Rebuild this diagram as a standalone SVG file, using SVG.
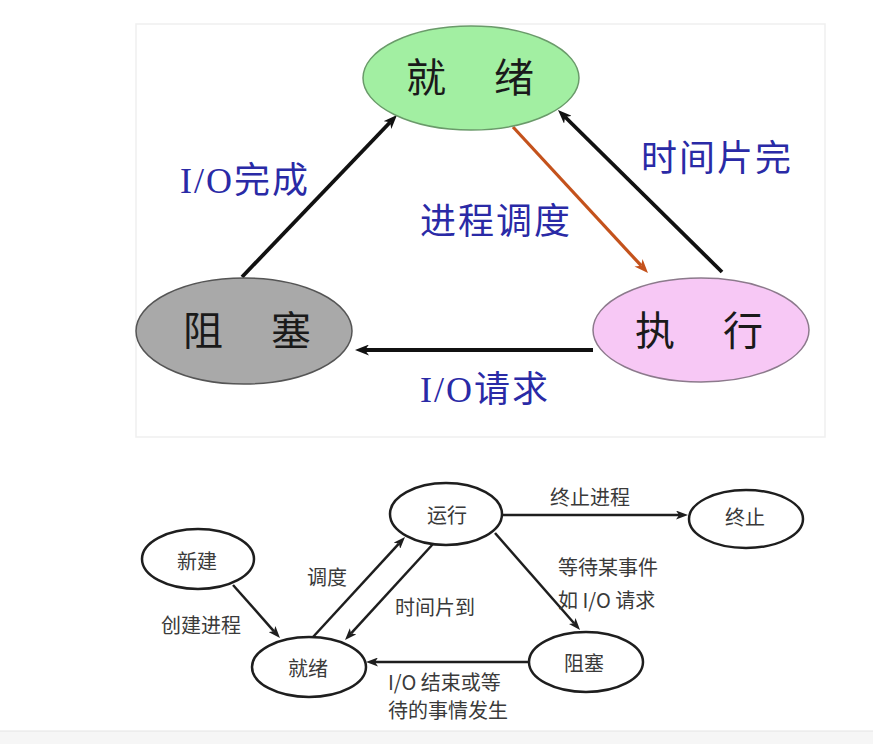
<svg xmlns="http://www.w3.org/2000/svg" width="873" height="744" viewBox="0 0 873 744">
<style>
.bg{fill:#ffffff}
.panel{fill:#ffffff;stroke:#efefef;stroke-width:1.5}
.tnode{stroke-width:1.5}
.tlabel{font-family:"Noto Sans CJK SC","Noto Sans",sans-serif;font-size:40px;fill:#1a1a1a}
.elabel{font-family:"Liberation Serif","Noto Sans CJK SC",serif;font-size:36px;fill:#2a2aa6;letter-spacing:2px}
.tline{fill:none;stroke:#111;stroke-width:3.8}
.tline-or{fill:none;stroke:#c4521c;stroke-width:3.2}
.bnode{fill:#fff;stroke:#1e1e1e;stroke-width:2.5}
.blabel{font-family:"Noto Sans CJK SC","Noto Sans",sans-serif;font-size:20px;fill:#3a3a3a}
.bline{fill:none;stroke:#1e1e1e;stroke-width:2.5}
</style>
<defs>
<marker id="ah" markerUnits="userSpaceOnUse" markerWidth="14" markerHeight="11" refX="4" refY="5.5" orient="auto"><path d="M0,0 L14,5.5 L0,11 L4,5.5 z" fill="#111"/></marker>
<marker id="ah-or" markerUnits="userSpaceOnUse" markerWidth="14" markerHeight="11" refX="4" refY="5.5" orient="auto"><path d="M0,0 L14,5.5 L0,11 L4,5.5 z" fill="#c4521c"/></marker>
<marker id="bh" markerUnits="userSpaceOnUse" markerWidth="12" markerHeight="9" refX="3" refY="4.5" orient="auto"><path d="M0,0 L12,4.5 L0,9 L3,4.5 z" fill="#1e1e1e"/></marker>
</defs>
<rect class="bg" x="0" y="0" width="873" height="744"/>
<rect class="panel" x="136" y="24" width="689" height="413"/>
<rect x="0" y="731" width="873" height="13" fill="#f6f6f6"/>
<line x1="0" y1="731" x2="873" y2="731" stroke="#e4e4e4" stroke-width="1"/>

<g id="top-connectors">
<path class="tline" d="M242,277 L390.1,122.2" marker-end="url(#ah)"/>
<path class="tline-or" d="M513,127 L641.2,265.7" marker-end="url(#ah-or)"/>
<path class="tline" d="M722,272 L565.1,117" marker-end="url(#ah)"/>
<path class="tline" d="M593,350 L365,350" marker-end="url(#ah)"/>
<text class="elabel" x="180" y="193">I/O完成</text>
<text class="elabel" x="641" y="171">时间片完</text>
<text class="elabel" x="420" y="234">进程调度</text>
<text class="elabel" x="420" y="402">I/O请求</text>
</g>

<g id="top-ready">
<ellipse class="tnode" cx="471" cy="78" rx="108" ry="52" fill="#a2efa2" stroke="#6a9a6a"/>
<text class="tlabel" y="92"><tspan x="406">就 </tspan><tspan x="494">绪</tspan></text>
</g>
<g id="top-blocked">
<ellipse class="tnode" cx="244" cy="331" rx="108" ry="53" fill="#a9a9a9" stroke="#555"/>
<text class="tlabel" y="345"><tspan x="183">阻 </tspan><tspan x="271">塞</tspan></text>
</g>
<g id="top-running">
<ellipse class="tnode" cx="701" cy="330" rx="108" ry="52" fill="#f7c8f5" stroke="#8c7a8c"/>
<text class="tlabel" y="345"><tspan x="635">执 </tspan><tspan x="723">行</tspan></text>
</g>

<g id="bottom-connectors">
<path class="bline" d="M233,585 L274,631.3" marker-end="url(#bh)"/>
<path class="bline" d="M313,637 L398.9,543.6" marker-end="url(#bh)"/>
<path class="bline" d="M433,544 L351.1,633.4" marker-end="url(#bh)"/>
<path class="bline" d="M503,515 L679,515" marker-end="url(#bh)"/>
<path class="bline" d="M495,533 L574.1,623.2" marker-end="url(#bh)"/>
<path class="bline" d="M529,662 L375,662" marker-end="url(#bh)"/>
<text class="blabel" x="550" y="505">终止进程</text>
<text class="blabel" x="307" y="585">调度</text>
<text class="blabel" x="395" y="615">时间片到</text>
<text class="blabel" x="558" y="575">等待某事件</text>
<text class="blabel" x="558" y="608">如 I/O 请求</text>
<text class="blabel" x="161" y="633">创建进程</text>
<text class="blabel" x="388" y="690">I/O 结束或等</text>
<text class="blabel" x="388" y="718">待的事情发生</text>
</g>

<g id="b-new">
<ellipse class="bnode" cx="198" cy="559" rx="56" ry="30"/>
<text class="blabel" x="177" y="569">新建</text>
</g>
<g id="b-running">
<ellipse class="bnode" cx="446" cy="514" rx="56" ry="31"/>
<text class="blabel" x="427" y="523">运行</text>
</g>
<g id="b-terminated">
<ellipse class="bnode" cx="746" cy="519" rx="57" ry="29"/>
<text class="blabel" x="725" y="525">终止</text>
</g>
<g id="b-ready">
<ellipse class="bnode" cx="309" cy="667" rx="57" ry="30"/>
<text class="blabel" x="288" y="676">就绪</text>
</g>
<g id="b-blocked">
<ellipse class="bnode" cx="586" cy="662" rx="57" ry="30"/>
<text class="blabel" x="564" y="671">阻塞</text>
</g>
</svg>
